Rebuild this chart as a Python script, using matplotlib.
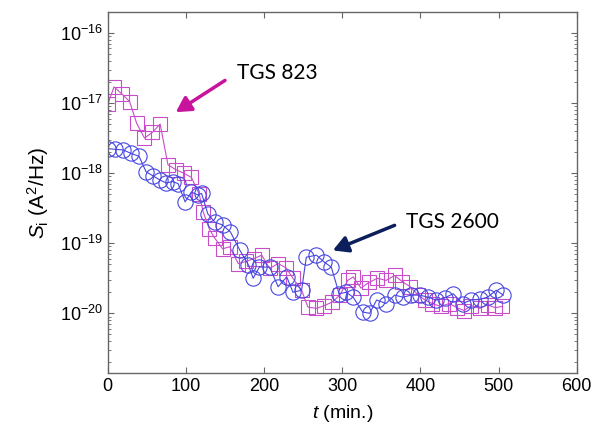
import numpy as np
import matplotlib.pyplot as plt
from matplotlib.ticker import LogLocator, NullFormatter

plt.rcParams['font.family'] = ['Liberation Sans', 'DejaVu Sans']
plt.rcParams['mathtext.fontset'] = 'custom'
plt.rcParams['mathtext.rm'] = 'Liberation Sans'
plt.rcParams['mathtext.it'] = 'Liberation Sans:italic'
plt.rcParams['mathtext.bf'] = 'Liberation Sans:bold'

# TGS 823 (squares): time in min, log10 of S_i
t_823 = [0, 8, 18, 28, 37, 47, 57, 67, 77, 87, 97, 107, 117, 122, 130, 137,
         147, 156, 167, 177, 187, 197, 207, 218, 228, 237, 248, 256, 267,
         277, 287, 297, 307, 314, 324, 334, 345, 356, 367, 377, 387, 397,
         406, 415, 426, 437, 447, 456, 465, 476, 486, 496, 505]
log_823 = [-17.02, -16.77, -16.87, -16.98, -17.29, -17.50, -17.42, -17.30,
           -17.88, -17.95, -18.00, -18.06, -18.30, -18.55, -18.80, -18.93,
           -19.08, -19.05, -19.29, -19.26, -19.22, -19.17, -19.36, -19.29,
           -19.35, -19.50, -19.67, -19.91, -19.93, -19.89, -19.84, -19.74,
           -19.53, -19.48, -19.64, -19.56, -19.50, -19.53, -19.46, -19.55,
           -19.62, -19.74, -19.81, -19.86, -19.90, -19.86, -19.92, -19.96,
           -19.89, -19.93, -19.88, -19.92, -19.90]

# TGS 2600 (circles)
t_2600 = [0, 9, 20, 30, 40, 49, 58, 67, 75, 83, 90, 99, 107, 115, 120, 128,
          137, 147, 157, 169, 180, 186, 194, 207, 218, 229, 237, 248, 254,
          267, 277, 286, 296, 305, 314, 326, 335, 344, 356, 367, 378, 388,
          399, 410, 420, 431, 442, 454, 465, 476, 486, 497, 506]
log_2600 = [-17.65, -17.66, -17.67, -17.72, -17.76, -17.98, -18.04, -18.10,
            -18.14, -18.12, -18.15, -18.41, -18.27, -18.31, -18.29, -18.58,
            -18.70, -18.74, -18.84, -19.10, -19.31, -19.50, -19.34, -19.34,
            -19.62, -19.48, -19.70, -19.67, -19.20, -19.17, -19.27, -19.34,
            -19.72, -19.70, -19.77, -19.98, -20.00, -19.81, -19.86, -19.74,
            -19.77, -19.74, -19.74, -19.77, -19.81, -19.78, -19.72, -19.86,
            -19.81, -19.80, -19.77, -19.67, -19.74]

S_823 = 10.0 ** np.array(log_823)
S_2600 = 10.0 ** np.array(log_2600)

fig = plt.figure(figsize=(6.02, 4.37), dpi=100)
ax = fig.add_axes([0.179, 0.146, 0.779, 0.827])

ax.plot(t_823, S_823, '-s', color='#c94ccb', mfc='none', ms=10.5, mew=0.8, lw=0.8)
ax.plot(t_2600, S_2600, '-o', color='#4646e0', mfc='none', ms=11, mew=0.8, lw=0.8)

ax.set_yscale('log')
ax.set_xlim(0, 600)
ax.set_ylim(1.4e-21, 2e-16)
ax.set_xticks([0, 100, 200, 300, 400, 500, 600])
ax.set_yticks([1e-16, 1e-17, 1e-18, 1e-19, 1e-20])
ax.yaxis.set_minor_locator(LogLocator(base=10, subs=np.arange(2, 10), numticks=20))
ax.yaxis.set_minor_formatter(NullFormatter())

for s in ax.spines.values():
    s.set_color('#666666')
    s.set_linewidth(1.0)
ax.tick_params(which='both', direction='in', top=True, right=True, colors='#666666',
               labelcolor='black', labelsize=13)
ax.tick_params(which='major', length=4)
ax.tick_params(which='minor', length=2)

ax.set_xlabel('$t$ (min.)', fontsize=14, labelpad=6)
ax.set_ylabel('$S_\\mathrm{i}$ (A$^2$/Hz)', fontsize=15, labelpad=6)

# callouts
ax.text(165, 2.7e-17, 'TGS 823', fontsize=15, family='Lato', va='center', ha='left')
ax.annotate('', xy=(87, 7.4e-18), xytext=(150, 2.1e-17),
            arrowprops=dict(arrowstyle='-|>,head_length=0.9,head_width=0.5',
                            color='#c8149c', lw=2.5, shrinkA=0, shrinkB=0))
ax.text(382, 2.0e-19, 'TGS 2600', fontsize=15, family='Lato', va='center', ha='left')
ax.annotate('', xy=(288, 7.9e-20), xytext=(367, 1.8e-19),
            arrowprops=dict(arrowstyle='-|>,head_length=0.9,head_width=0.5',
                            color='#0c1f5c', lw=2.5, shrinkA=0, shrinkB=0))

fig.savefig('out.png', dpi=100)
